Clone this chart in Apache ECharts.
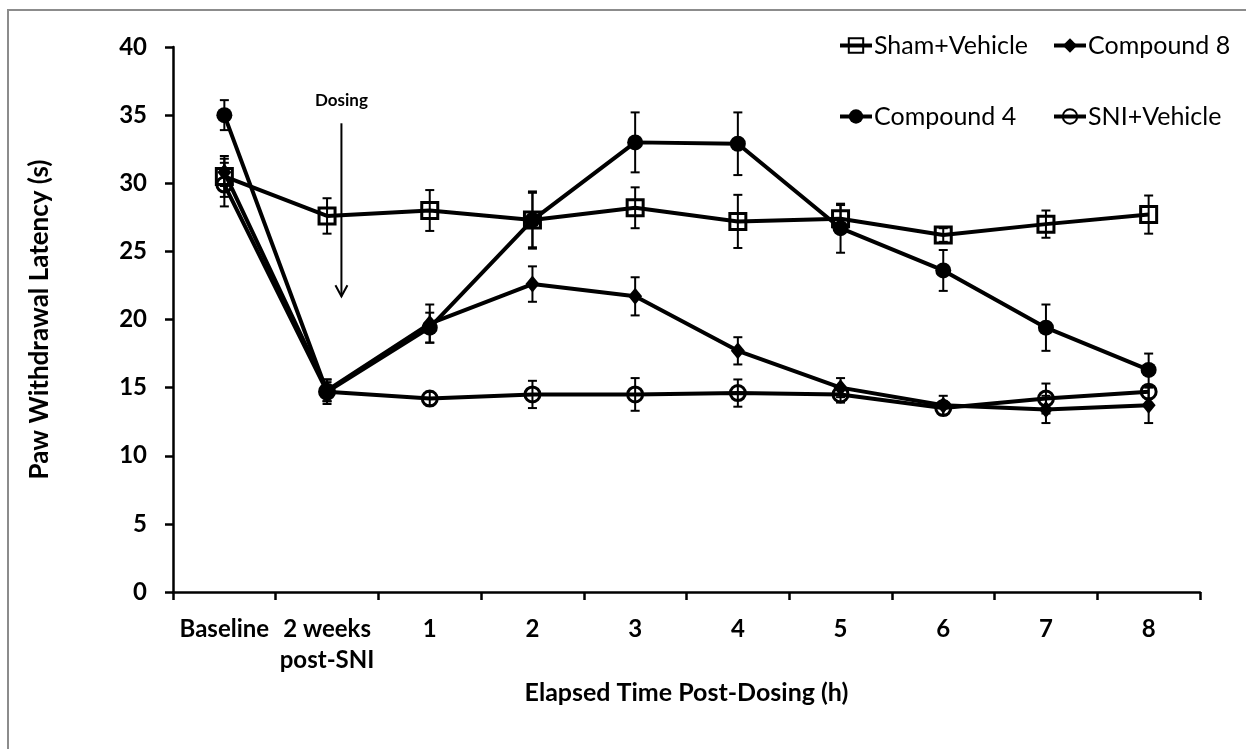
<!DOCTYPE html>
<html>
<head>
<meta charset="utf-8">
<script src="https://cdn.jsdelivr.net/npm/echarts@6/dist/echarts.min.js"></script>
<style>
html,body{margin:0;padding:0;background:#fff;}
#chart{width:1246px;height:749px;}
</style>
</head>
<body>
<div id="chart"></div>
<script>
// x categories
var categories = ['Baseline', '2 weeks\npost-SNI', '1', '2', '3', '4', '5', '6', '7', '8'];
var yTicks = [0, 5, 10, 15, 20, 25, 30, 35, 40];

// means and error (+/-) for each group
var shamMean  = [30.5, 27.6, 28.0, 27.3, 28.2, 27.2, 27.4, 26.2, 27.0, 27.7];
var shamErr   = [1.5, 1.3, 1.5, 2.1, 1.5, 1.95, 1.0, 0.5, 1.0, 1.4];
var comp8Mean = [30.8, 14.8, 19.7, 22.6, 21.7, 17.7, 15.0, 13.7, 13.4, 13.7];
var comp8Err  = [1.0, 0.8, 1.4, 1.3, 1.4, 1.0, 0.7, 0.7, 1.0, 1.3];
var comp4Mean = [35.0, 14.7, 19.4, 27.3, 33.0, 32.9, 26.7, 23.6, 19.4, 16.3];
var comp4Err  = [1.1, 0.7, 1.1, 2.0, 2.2, 2.3, 1.8, 1.5, 1.7, 1.2];
var sniMean   = [29.9, 14.7, 14.2, 14.5, 14.5, 14.6, 14.5, 13.5, 14.2, 14.7];
var sniErr    = [1.6, 0.9, 0.5, 1.0, 1.2, 1.0, 0.6, 0.5, 1.1, 0.5];

// dosing annotation (category offset, arrow top/bottom, label value)
var dosingAt = 1.14;
var dosingTop = 34.4;
var dosingBottom = 21.7;
var dosingLabelY = 36.1;

var FONT = 'Lato';

var chart = echarts.init(document.getElementById('chart'));

function lineSeries(name, data, symbol, size, hollow) {
    return {
        name: name,
        type: 'line',
        data: data,
        symbol: symbol,
        symbolSize: size,
        showSymbol: true,
        lineStyle: {color: '#000', width: 4},
        itemStyle: {
            color: hollow ? 'rgba(255,255,255,0)' : '#000',
            borderColor: '#000',
            borderWidth: hollow ? 3 : 0
        },
        emphasis: {disabled: true},
        z: 2
    };
}

function errorBars(means, errs) {
    return {
        type: 'custom',
        silent: true,
        z: 4,
        data: means.map(function (m, i) { return [i, m - errs[i], m + errs[i]]; }),
        encode: {x: 0, y: [1, 2]},
        renderItem: function (params, api) {
            var lo = api.coord([api.value(0), api.value(1)]);
            var hi = api.coord([api.value(0), api.value(2)]);
            var w = 4.5;
            var st = {stroke: '#000', lineWidth: 2};
            return {
                type: 'group',
                children: [
                    {type: 'line', shape: {x1: hi[0], y1: hi[1], x2: lo[0], y2: lo[1]}, style: st},
                    {type: 'line', shape: {x1: hi[0] - w, y1: hi[1], x2: hi[0] + w, y2: hi[1]}, style: st},
                    {type: 'line', shape: {x1: lo[0] - w, y1: lo[1], x2: lo[0] + w, y2: lo[1]}, style: st}
                ]
            };
        }
    };
}

function legendAt(name, left, top) {
    return {
        data: [name],
        left: left,
        top: top,
        padding: 0,
        itemWidth: 32,
        itemHeight: 18,
        itemGap: 0,
        selectedMode: false,
        lineStyle: {width: 4, color: '#000'},
        textStyle: {fontFamily: FONT, fontSize: 25, color: '#000', padding: [0, 0, 0, -3]}
    };
}

var option = {
    backgroundColor: '#fff',
    animation: false,
    textStyle: {fontFamily: FONT},
    grid: {left: 173, right: 46, top: 47, bottom: 157},
    legend: [
        legendAt('Sham+Vehicle', 838, 33),
        legendAt('Compound 8', 1052, 33),
        legendAt('Compound 4', 838, 104),
        legendAt('SNI+Vehicle', 1052, 104)
    ],
    xAxis: {
        type: 'category',
        data: categories,
        boundaryGap: true,
        name: 'Elapsed Time Post-Dosing (h)',
        nameLocation: 'middle',
        nameGap: 86,
        nameTextStyle: {fontFamily: FONT, fontSize: 25, fontWeight: 'bold', color: '#000'},
        axisLine: {lineStyle: {color: '#000', width: 2.5}},
        axisTick: {show: true, alignWithLabel: false, length: 8, lineStyle: {color: '#000', width: 2.5}},
        axisLabel: {
            interval: 0, margin: 22, color: '#000', fontFamily: FONT,
            fontSize: 24, fontWeight: 'bold', lineHeight: 31
        },
        splitLine: {show: false}
    },
    yAxis: {
        type: 'value',
        min: yTicks[0],
        max: yTicks[yTicks.length - 1],
        interval: 5,
        name: 'Paw Withdrawal Latency (s)',
        nameLocation: 'middle',
        nameGap: 120,
        nameRotate: 90,
        nameTextStyle: {fontFamily: FONT, fontSize: 26, fontWeight: 'bold', color: '#000'},
        axisLine: {show: true, lineStyle: {color: '#000', width: 2.5}},
        axisTick: {show: true, length: 8, lineStyle: {color: '#000', width: 2.5}},
        axisLabel: {margin: 26, color: '#000', fontFamily: FONT, fontSize: 24, fontWeight: 'bold'},
        splitLine: {show: false}
    },
    series: [
        lineSeries('Sham+Vehicle', shamMean, 'rect', 16, true),
        lineSeries('Compound 8', comp8Mean, 'diamond', [14, 17], false),
        lineSeries('Compound 4', comp4Mean, 'circle', 16, false),
        lineSeries('SNI+Vehicle', sniMean, 'circle', 15, true),
        errorBars(shamMean, shamErr),
        errorBars(comp8Mean, comp8Err),
        errorBars(comp4Mean, comp4Err),
        errorBars(sniMean, sniErr)
    ]
};

chart.setOption(option);

// dosing arrow + outer frame
var c1 = chart.convertToPixel({xAxisIndex: 0}, 1);
var c2 = chart.convertToPixel({xAxisIndex: 0}, 2);
var ax = c1 + (dosingAt - 1) * (c2 - c1);
var yTop = chart.convertToPixel({yAxisIndex: 0}, dosingTop);
var yBot = chart.convertToPixel({yAxisIndex: 0}, dosingBottom);
var yLab = chart.convertToPixel({yAxisIndex: 0}, dosingLabelY);
var arrowStyle = {stroke: '#000', lineWidth: 2};

chart.setOption({
    graphic: [
        {type: 'rect', shape: {x: 8, y: 10, width: 1400, height: 900}, style: {fill: 'none', stroke: '#8c8c8c', lineWidth: 2}, silent: true},
        {type: 'line', shape: {x1: ax, y1: yTop, x2: ax, y2: yBot}, style: arrowStyle},
        {type: 'polyline', shape: {points: [[ax - 6, yBot - 11], [ax, yBot], [ax + 6, yBot - 11]]}, style: arrowStyle},
        {type: 'text', x: ax, y: yLab, style: {text: 'Dosing', fill: '#000', font: 'bold 17px ' + FONT, align: 'center', verticalAlign: 'middle'}}
    ]
});

window.addEventListener('resize', function () {
    chart.resize();
});
</script>
</body>
</html>
